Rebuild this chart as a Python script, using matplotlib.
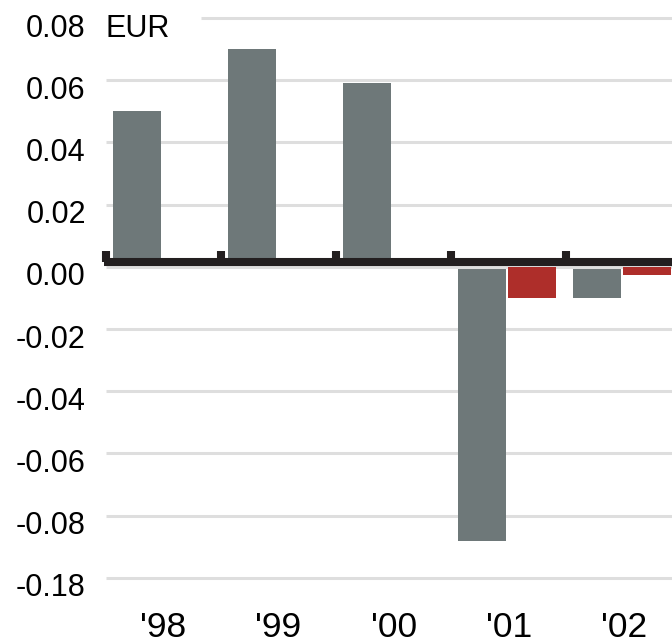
import matplotlib.pyplot as plt
import numpy as np
from matplotlib.transforms import ScaledTranslation

plt.rcParams['font.family'] = ['Liberation Sans', 'DejaVu Sans']

# data (the bottom tick is a broken axis: plotted at -0.10, labelled -0.18)
years = ["'98", "'99", "'00", "'01", "'02"]
gray_vals = [0.050, 0.070, 0.059, -0.088, -0.010]
red_vals = [np.nan, np.nan, np.nan, -0.010, -0.0025]
ytick_vals = [0.08, 0.06, 0.04, 0.02, 0.00, -0.02, -0.04, -0.06, -0.08, -0.10]
ytick_labels = ["0.08", "0.06", "0.04", "0.02", "0.00",
                "-0.02", "-0.04", "-0.06", "-0.08", "-0.18"]

GRAY = "#6e7879"
RED = "#ae2e2a"
BLACK = "#231f20"
GRID = "#dedede"

fig = plt.figure(figsize=(6.72, 6.44), dpi=100)
ax = fig.add_axes([106 / 672, 54 / 644, 566 / 672, 580 / 644])

x = np.arange(len(years))
w = 0.417
ax.bar(x - 0.23, gray_vals, w, color=GRAY, zorder=2)
ax.bar(x + 0.2, red_vals, w, color=RED, zorder=6)

# gridlines (top one starts after the unit label)
for v in ytick_vals:
    x0 = 0.33 if v == 0.08 else -0.5
    ax.plot([x0, 5], [v, v], color=GRID, lw=2.2, zorder=3 if v == 0 else 1,
            solid_capstyle='butt')

# zero axis line with category separators
ax.plot([-0.52, 5], [0.0016, 0.0016], color=BLACK, lw=5.8, zorder=4,
        solid_capstyle='butt', clip_on=False)
ax.vlines(np.arange(len(years)) - 0.5, 0.0016, 0.0052, color=BLACK,
          lw=5.8, zorder=4, clip_on=False)

ax.set_xlim(-0.5, 4.42)
ax.set_ylim(-0.1039, 0.0826)

ax.set_yticks(ytick_vals)
ax.set_yticklabels(ytick_labels, fontsize=22)
ax.set_xticks(x)
ax.set_xticklabels(years, fontsize=25.5)
ax.tick_params(axis='y', length=0, pad=14.5)
ax.tick_params(axis='x', length=0, pad=15)
off = ScaledTranslation(0, -5 / 72, fig.dpi_scale_trans)
for lab in ax.get_yticklabels():
    lab.set_transform(lab.get_transform() + off)

for s in ax.spines.values():
    s.set_visible(False)

ax.text(-0.5, 0.08, "EUR", fontsize=22, ha='left', va='center_baseline',
        transform=ax.transData + off)

fig.savefig("out.png", dpi=100)
